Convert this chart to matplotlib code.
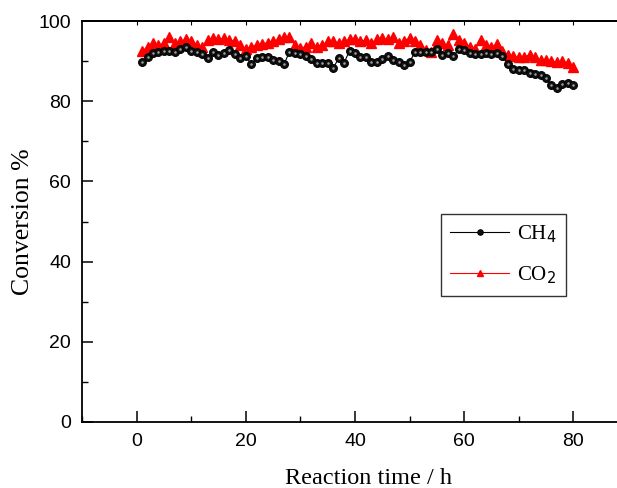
import matplotlib
matplotlib.use("Agg")
import matplotlib.pyplot as plt
import numpy as np
from matplotlib.ticker import MultipleLocator

time_h = list(range(1, 81))
ch4 = [89.7, 90.9, 91.9, 92.3, 92.5, 92.5, 92.3, 92.9, 93.4, 92.5,
       92.3, 91.7, 90.7, 92.3, 91.5, 91.9, 92.8, 91.7, 90.7, 91.3,
       89.3, 90.7, 90.9, 90.9, 90.3, 90.1, 89.2, 92.3, 92.1, 91.7,
       91.3, 90.6, 89.5, 89.5, 89.5, 88.2, 90.7, 89.6, 92.5, 91.9,
       91.1, 91.1, 89.7, 89.9, 90.6, 91.3, 90.3, 89.9, 89.1, 89.8,
       92.2, 92.2, 92.2, 92.2, 92.9, 91.5, 91.9, 91.3, 92.9, 92.8,
       92.1, 91.7, 91.7, 91.9, 91.8, 91.9, 91.3, 89.4, 88.0, 87.8,
       87.8, 87.1, 86.8, 86.5, 85.7, 84.0, 83.2, 84.3, 84.6, 84.0]
co2 = [92.4, 93.6, 94.6, 94.0, 94.4, 95.9, 94.6, 94.9, 95.4, 94.9,
       94.0, 93.4, 95.3, 95.7, 95.4, 95.7, 95.3, 94.9, 94.0, 92.9,
       93.6, 94.0, 94.3, 94.6, 94.9, 95.4, 95.9, 96.1, 94.0, 93.2,
       93.6, 94.4, 93.6, 94.0, 94.9, 94.9, 94.6, 94.9, 95.4, 95.4,
       94.9, 95.3, 94.6, 95.4, 95.7, 95.4, 96.1, 94.4, 95.1, 95.7,
       94.9, 94.0, 92.8, 92.2, 95.3, 94.4, 94.0, 96.8, 95.3, 94.4,
       93.6, 92.9, 95.3, 94.0, 93.4, 94.3, 92.6, 91.6, 91.2, 91.0,
       91.0, 91.6, 91.0, 90.3, 90.2, 90.0, 89.7, 90.0, 89.6, 88.6]

fig = plt.figure(figsize=(6.17, 4.88), dpi=100)
ax = fig.add_axes([82/617, (488-422)/488, (617-82)/617, (422-21)/488])

ax.plot(time_h, co2, color='red', lw=0.8, marker='^', ms=6.5,
        mfc='red', mec='red', label='CO$_2$', zorder=2)
ax.plot(time_h, ch4, color='black', lw=0.8, marker='o', ms=5.6,
        mfc='#111111', mec='black', mew=0.8, label='CH$_4$', zorder=3)
ax.plot(time_h, ch4, ls='none', marker='o', ms=1.8, mfc='#a0a0a0', mec='none', zorder=4)

ax.set_xlim(-10, 88)
ax.set_ylim(0, 100)
ax.xaxis.set_minor_locator(MultipleLocator(10))
ax.yaxis.set_major_locator(MultipleLocator(20))
ax.yaxis.set_minor_locator(MultipleLocator(10))
ax.set_xticks([0, 20, 40, 60, 80])
ax.tick_params(which='major', direction='in', length=8, width=1.1, top=False, right=False,
               labelsize=14, pad=8)
ax.tick_params(which='minor', direction='in', length=4, width=1.0, top=False, right=False)
for lab in ax.get_xticklabels() + ax.get_yticklabels():
    lab.set_fontfamily('Liberation Sans')

ax.spines['right'].set_visible(False)
for s in ['left', 'bottom', 'top']:
    ax.spines[s].set_linewidth(1.3)

sec = ax.secondary_xaxis('top')
sec.set_xticks(np.arange(0, 81, 10))
sec.set_xticklabels([])
sec.tick_params(direction='in', length=3, width=0.8)
sec.spines['top'].set_linewidth(1.3)

ax.set_xlabel('Reaction time / h', fontfamily='Liberation Serif', fontsize=17.5, labelpad=12)
ax.xaxis.set_label_coords(0.535, -0.115)
ax.set_ylabel('Conversion %', fontfamily='Liberation Serif', fontsize=18.5, labelpad=3)

handles, labels = ax.get_legend_handles_labels()
leg = ax.legend(handles[::-1], labels[::-1], loc='upper left', bbox_to_anchor=(0.671, 0.519),
                borderaxespad=0, frameon=True, fancybox=False, edgecolor='black',
                handlelength=2.8, prop={'family': 'Liberation Serif', 'size': 15},
                markerscale=0.7, borderpad=0.45, labelspacing=0.95, handletextpad=0.4)
leg.get_frame().set_linewidth(1.0)

fig.savefig('out.png', dpi=100)
